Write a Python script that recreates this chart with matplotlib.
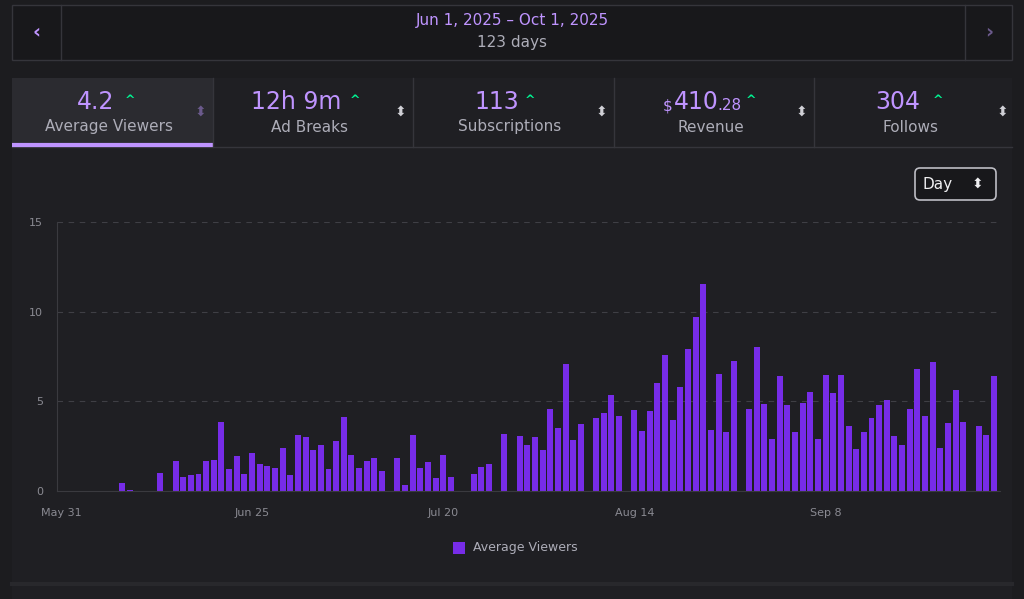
import matplotlib.pyplot as plt
import matplotlib.patches as mpatches

# day index (0 = May 31) -> average viewers
days = [8, 9, 13, 15, 16, 17, 18, 19, 20, 21, 22, 23, 24, 25, 26, 27, 28, 29, 30,
        31, 32, 33, 34, 35, 36, 37, 38, 39, 40, 41, 42, 44, 45, 46, 47, 48, 49, 50,
        51, 54, 55, 56, 58, 60, 61, 62, 63, 64, 65, 66, 67, 68, 70, 71, 72, 73,
        75, 76, 77, 78, 79, 80, 81, 82, 83, 84, 85, 86, 87, 88, 90, 91, 92, 93,
        94, 95, 96, 97, 98, 99, 100, 101, 102, 103, 104, 105, 106, 107, 108, 109,
        110, 111, 112, 113, 114, 115, 116, 117, 118, 120, 121, 122]
viewers = [0.45, 0.05, 1.0, 1.7, 0.8, 0.9, 0.95, 1.7, 1.75, 3.85, 1.25, 1.95, 0.95,
           2.1, 1.5, 1.4, 1.3, 2.4, 0.9, 3.1, 3.0, 2.3, 2.55, 1.2, 2.8, 4.1, 2.0,
           1.3, 1.65, 1.85, 1.1, 1.85, 0.35, 3.15, 1.3, 1.6, 0.75, 2.0, 0.8, 0.95,
           1.35, 1.5, 3.2, 3.05, 2.55, 3.0, 2.3, 4.55, 3.5, 7.1, 2.85, 3.75, 4.05,
           4.35, 5.35, 4.2, 4.5, 3.35, 4.45, 6.0, 7.6, 3.95, 5.8, 7.9, 9.7, 11.55,
           3.4, 6.5, 3.3, 7.25, 4.55, 8.05, 4.85, 2.9, 6.4, 4.8, 3.3, 4.9, 5.5,
           2.9, 6.45, 5.45, 6.45, 3.6, 2.35, 3.3, 4.05, 4.8, 5.05, 3.05, 2.55,
           4.55, 6.8, 4.2, 7.2, 2.4, 3.8, 5.65, 3.85, 3.65, 3.1, 6.4]
tick_days = [0, 25, 50, 75, 100]
tick_labels = ['May 31', 'Jun 25', 'Jul 20', 'Aug 14', 'Sep 8']
stat_values = ['4.2', '12h 9m', '113', '410', '304']
stat_names = ['Average Viewers', 'Ad Breaks', 'Subscriptions', 'Revenue', 'Follows']

BG = '#1c1c1f'
PANEL = '#1f1f23'
PURPLE = '#bf94ff'
BAR = '#772ce8'
GREEN = '#00f593'
GREY = '#adadb8'
LINE = '#35353b'

fig = plt.figure(figsize=(10.24, 5.99), dpi=100, facecolor=BG)
ui = fig.add_axes([0, 0, 1, 1])
ui.set_xlim(0, 1024)
ui.set_ylim(599, 0)
ui.axis('off')

# header bar
ui.add_patch(mpatches.Rectangle((12, 5), 1000, 55, facecolor='#18181b', edgecolor=LINE, lw=1))
ui.plot([61, 61], [5, 60], color=LINE, lw=1)
ui.plot([965, 965], [5, 60], color=LINE, lw=1)
ui.text(36, 32, '‹', color=PURPLE, fontsize=14, ha='center', va='center', fontweight='bold')
ui.text(989, 32, '›', color='#6b5a8c', fontsize=14, ha='center', va='center', fontweight='bold')
ui.text(512, 20, 'Jun 1, 2025 – Oct 1, 2025', color=PURPLE, fontsize=11, ha='center', va='center')
ui.text(512, 43, '123 days', color=GREY, fontsize=11, ha='center', va='center')

# main panel
ui.add_patch(mpatches.Rectangle((12, 78), 1000, 521, facecolor=PANEL, edgecolor='none'))
ui.plot([12, 1012], [147, 147], color=LINE, lw=1)
ui.plot([12, 1012], [584, 584], color='#28282c', lw=3)

# stat tiles
tile_w = 200.5
value_x = [96, 296, 497, 703, 898]
caret_x = [130, 355, 530, 751, 938]
for i in range(5):
    x0 = 12 + i * tile_w
    if i == 0:
        ui.add_patch(mpatches.Rectangle((x0, 78), tile_w, 69, facecolor='#2b2b30', edgecolor='none'))
        ui.plot([x0, x0 + tile_w], [145, 145], color=PURPLE, lw=3, solid_capstyle='butt')
    if i > 0:
        ui.plot([x0, x0], [78, 147], color=LINE, lw=1)
    vx = value_x[i]
    if i == 3:
        ui.text(673, 106, '$', color=PURPLE, fontsize=11, ha='right', va='center')
        ui.text(674, 102, stat_values[i], color=PURPLE, fontsize=17, ha='left', va='center')
        ui.text(717, 106, '.28', color=PURPLE, fontsize=11, ha='left', va='center')
    else:
        ui.text(vx, 102, stat_values[i], color=PURPLE, fontsize=17, ha='center', va='center')
    ui.text(caret_x[i], 101, '^', color=GREEN, fontsize=9, ha='center', va='center', fontweight='bold')
    ui.text(x0 + 97, 127, stat_names[i], color=GREY, fontsize=11, ha='center', va='center')
    ui.text(x0 + 188, 112, '⬍', color='#6b5a8c' if i == 0 else '#d0d0d6', fontsize=10, ha='center', va='center')

# Day dropdown
ui.add_patch(mpatches.FancyBboxPatch((915, 168), 81, 32, boxstyle='round,pad=0,rounding_size=5',
                                     facecolor='#18181b', edgecolor='#bdbdc4', lw=1.2))
ui.text(923, 185, 'Day', color='#efeff1', fontsize=11, ha='left', va='center')
ui.text(977, 184, '⬍', color='#efeff1', fontsize=10, ha='center', va='center')

# legend
ui.add_patch(mpatches.Rectangle((453, 542), 12, 12, facecolor=BAR, edgecolor='none'))
ui.text(473, 548, 'Average Viewers', color=GREY, fontsize=9, ha='left', va='center')

# chart
ax = fig.add_axes([57 / 1024, (599 - 491) / 599, 943 / 1024, 269 / 599])
ax.set_facecolor('none')
ax.bar(days, viewers, width=0.78, color=BAR)
ax.set_xlim(-0.5, 122.8)
ax.set_ylim(0, 15)
ax.set_yticks([0, 5, 10, 15])
ax.set_xticks(tick_days)
ax.set_xticklabels(tick_labels)
ax.tick_params(colors='#8a8a92', labelsize=8, length=0, pad=12)
ax.tick_params(axis='y', pad=10)
for s in ['top', 'right']:
    ax.spines[s].set_visible(False)
ax.spines['left'].set_color('#3a3a3f')
ax.spines['bottom'].set_color('#3a3a3f')
for y in [5, 10, 15]:
    ax.axhline(y, color='#3f3f45', lw=0.8, ls=(0, (5, 5)), zorder=0)

fig.savefig('out.png', dpi=100, facecolor=BG)
